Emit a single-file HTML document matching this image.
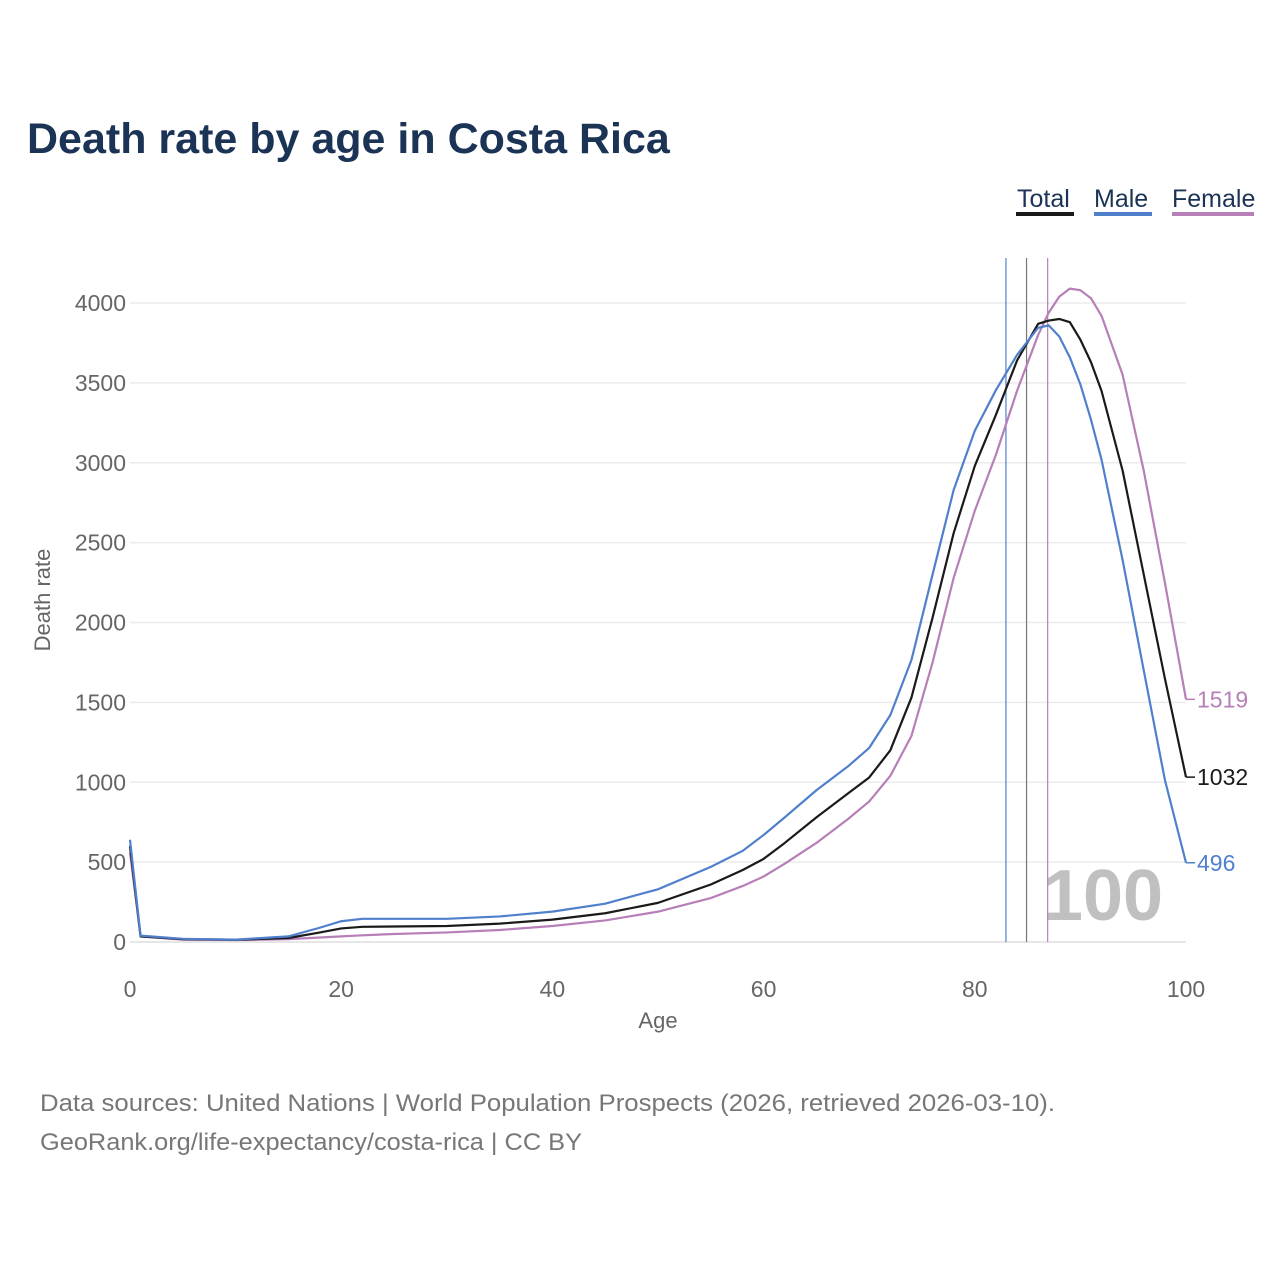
<!DOCTYPE html>
<html><head><meta charset="utf-8"><style>
body{margin:0;background:#fff;font-family:"Liberation Sans",sans-serif;}
#wrap{position:relative;width:1280px;height:1280px;overflow:hidden;}
</style></head><body>
<div id="wrap">
<svg id="svg" width="1280" height="1280">
<text x="27" y="153" font-size="43" font-weight="bold" fill="#1b3354">Death rate by age in Costa Rica</text>
<g>
<text x="1017" y="207" font-size="25" fill="#1b3354">Total</text>
<rect x="1016" y="212" width="58" height="4" fill="#1a1a1a"/>
<text x="1094" y="207" font-size="25" fill="#1b3354">Male</text>
<rect x="1094" y="212" width="58" height="4" fill="#5080cc"/>
<text x="1172" y="207" font-size="25" fill="#1b3354">Female</text>
<rect x="1172" y="212" width="82" height="4" fill="#b77fb8"/>
</g>
<g id="grid"></g>
<text x="1103" y="920" font-size="72" font-weight="bold" fill="#c0c0c0" text-anchor="middle">100</text>
<g id="marks"></g>
<text x="658" y="1028" font-size="22" fill="#666" text-anchor="middle">Age</text>
<text transform="translate(50,600) rotate(-90)" font-size="22" fill="#666" text-anchor="middle">Death rate</text>
<text x="40" y="1111" font-size="24" fill="#777" textLength="1015" lengthAdjust="spacingAndGlyphs">Data sources: United Nations | World Population Prospects (2026, retrieved 2026-03-10).</text>
<text x="40" y="1150" font-size="24" fill="#777" textLength="542" lengthAdjust="spacingAndGlyphs">GeoRank.org/life-expectancy/costa-rica | CC BY</text>
</svg></div>
<script>
const ages=[0,1,5,10,15,18,20,22,25,30,35,40,45,50,55,58,60,62,65,67,68,70,72,74,76,78,80,82,84,86,87,88,89,90,91,92,94,96,98,100];
const male=[640,40,20,15,35,90,130,145,145,145,160,190,240,330,470,570,670,780,950,1050,1100,1215,1420,1765,2300,2830,3200,3455,3675,3845,3860,3790,3660,3490,3270,3020,2390,1700,1015,496];
const total=[600,35,18,14,25,60,85,95,97,100,115,140,180,245,360,450,520,620,780,880,930,1030,1200,1530,2030,2560,2980,3300,3640,3870,3890,3900,3880,3770,3630,3450,2950,2300,1650,1032];
const female=[560,35,15,12,18,28,35,42,50,60,75,100,135,190,275,350,410,490,620,720,770,880,1040,1290,1750,2280,2700,3050,3450,3800,3940,4040,4090,4080,4030,3920,3550,2950,2250,1519];
const yTicks=[0,500,1000,1500,2000,2500,3000,3500,4000];
const xTicks=[0,20,40,60,80,100];
const lifeExp={male:82.95,total:84.9,female:86.9};
const NS="http://www.w3.org/2000/svg";
const X=a=>130+a*10.56, Y=v=>942-v*0.15975;
const grid=document.getElementById('grid'), marks=document.getElementById('marks');
function mk(tag,attrs,parent){const e=document.createElementNS(NS,tag);for(const k in attrs)e.setAttribute(k,attrs[k]);parent.appendChild(e);return e;}
yTicks.forEach(t=>{
 const l=mk('line',{x1:130,x2:1186,y1:Y(t),y2:Y(t),stroke:t===0?'#ddd':'#ebebeb','stroke-width':1.5},grid);
 
 
 const tx=mk('text',{x:126,y:Y(t)+8,'font-size':23,fill:'#666','text-anchor':'end'},grid);
 tx.textContent=t;
 
 
});
xTicks.forEach(t=>{
 const tx=mk('text',{x:X(t),y:997,'font-size':23,fill:'#666','text-anchor':'middle'},grid);
 tx.textContent=t;
 
 
});
const cols={male:'#5080cc',total:'#1a1a1a',female:'#b77fb8'};
['male','total','female'].forEach(k=>{
 const l=mk('line',{x1:X(lifeExp[k]),x2:X(lifeExp[k]),y1:258,y2:942,stroke:k==='total'?'#777':cols[k],'stroke-width':1.2},marks);
 
 
});
const series={female:female,total:total,male:male};
['female','total','male'].forEach(k=>{
 const d=series[k];
 const p=mk('polyline',{points:ages.map((a,i)=>X(a)+','+Y(d[i])).join(' '),fill:'none',stroke:cols[k],'stroke-width':2.2,'stroke-linejoin':'round'},marks);
 
 
 const last=d[d.length-1];
 const tk=mk('line',{x1:X(100),x2:X(100)+9,y1:Y(last),y2:Y(last),stroke:cols[k],'stroke-width':1.5},marks);
 
 
 const t=mk('text',{x:1197,y:Y(last)+8,'font-size':23,fill:cols[k]},marks);
 t.textContent=last;
 
 
});
</script>
</body></html>
